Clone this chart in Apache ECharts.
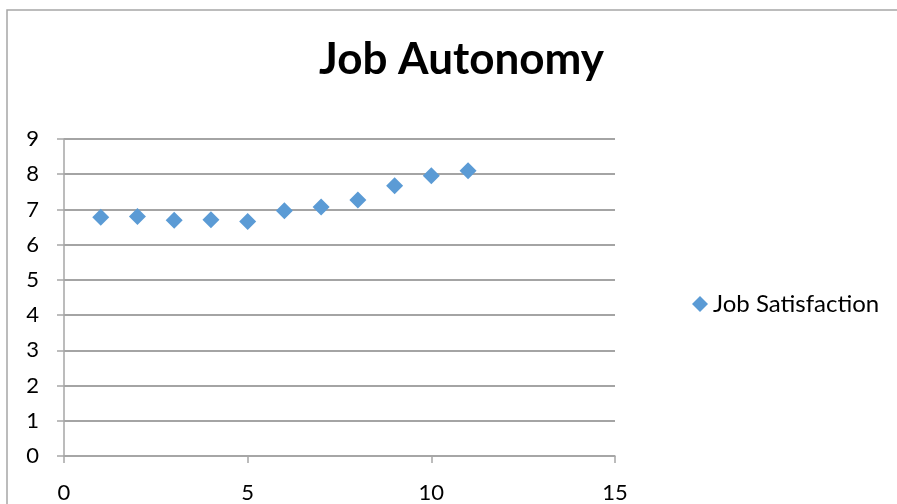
<!DOCTYPE html>
<html>
<head>
<meta charset="utf-8">
<script src="https://cdn.jsdelivr.net/npm/echarts@6/dist/echarts.min.js"></script>
<style>
  html, body { margin: 0; padding: 0; background: #fff; }
  #chart { width: 897px; height: 504px; }
</style>
</head>
<body>
<div id="chart"></div>
<script>
// Job satisfaction by level of job autonomy
const autonomyLevels = [1, 2, 3, 4, 5, 6, 7, 8, 9, 10, 11];
const satisfaction = [6.78, 6.80, 6.69, 6.71, 6.66, 6.96, 7.07, 7.27, 7.67, 7.96, 8.10];
const seriesName = 'Job Satisfaction';
const chartTitle = 'Job Autonomy';

const FONT = 'Lato, "Liberation Sans", sans-serif';
const AXIS_GREY = '#a6a6a6';
const GRID_GREY = '#868686';

const chart = echarts.init(document.getElementById('chart'), null, { renderer: 'canvas' });

chart.setOption({
  backgroundColor: '#ffffff',
  animation: false,
  graphic: [{
    type: 'rect',
    shape: { x: 7, y: 10, width: 1000, height: 600 },
    style: { fill: 'none', stroke: '#a6a6a6', lineWidth: 1.5 },
    silent: true,
    z: -10
  }],
  title: {
    text: chartTitle,
    left: 314,
    top: 33,
    textStyle: { fontFamily: FONT, fontSize: 44, fontWeight: 'bold', color: '#000' }
  },
  legend: {
    data: [{ name: seriesName, icon: 'diamond' }],
    orient: 'vertical',
    left: 687,
    top: 287,
    itemWidth: 16,
    itemHeight: 16,
    itemGap: 5,
    textStyle: { fontFamily: FONT, fontSize: 24, color: '#000' }
  },
  grid: { left: 64, right: 282, top: 139, bottom: 48, containLabel: false },
  xAxis: {
    type: 'value',
    min: 0,
    max: 15,
    interval: 5,
    axisLine: { show: true, lineStyle: { color: AXIS_GREY, width: 1.5 } },
    axisTick: { show: true, length: 7, lineStyle: { color: AXIS_GREY, width: 1.5 } },
    splitLine: { show: false },
    axisLabel: { margin: 26, fontFamily: FONT, fontSize: 22, color: '#000' }
  },
  yAxis: {
    type: 'value',
    min: 0,
    max: 9,
    interval: 1,
    axisLine: { show: true, lineStyle: { color: AXIS_GREY, width: 1.5 } },
    axisTick: { show: true, length: 7, lineStyle: { color: AXIS_GREY, width: 1.5 } },
    splitLine: { show: true, lineStyle: { color: GRID_GREY, width: 1.5 } },
    axisLabel: { margin: 25, fontFamily: FONT, fontSize: 22, color: '#000' }
  },
  series: [{
    name: seriesName,
    type: 'scatter',
    symbol: 'diamond',
    symbolSize: [17, 17],
    itemStyle: { color: '#5b9bd5', opacity: 1 },
    data: autonomyLevels.map((x, i) => [x, satisfaction[i]])
  }]
});
</script>
</body>
</html>
